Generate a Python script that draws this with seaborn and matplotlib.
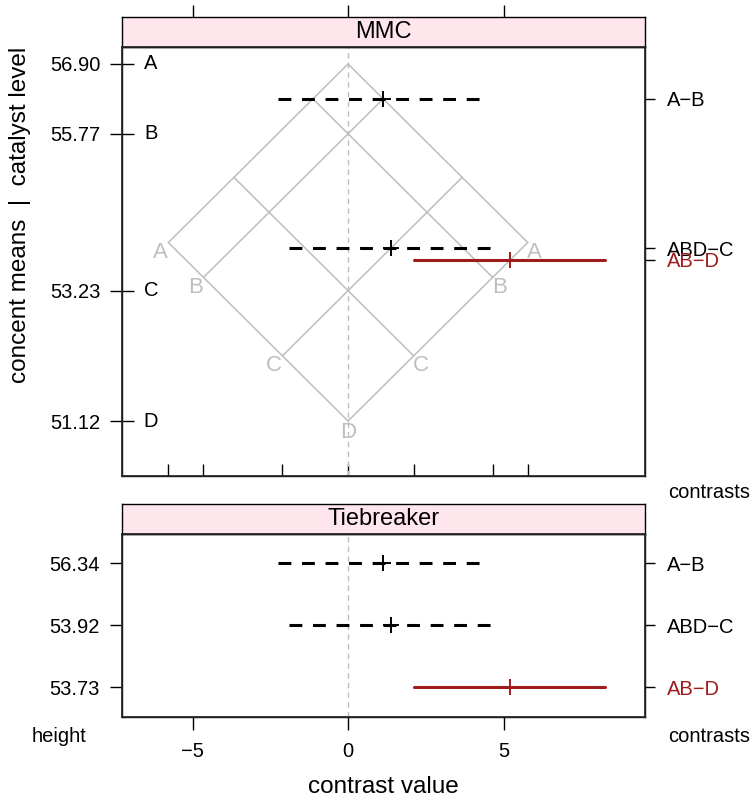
import numpy as np
import pandas as pd
import seaborn as sns
import matplotlib.pyplot as plt
from matplotlib.transforms import blended_transform_factory

# catalyst levels and their means
levels = ["A", "B", "C", "D"]
means = [56.90, 55.77, 53.23, 51.12]

# contrasts
contrasts = ["A\u2212B", "ABD\u2212C", "AB\u2212D"]
contrast_height = [56.34, 53.92, 53.73]
estimate = [1.13, 1.37, 5.21]
lower = [-2.25, -1.90, 2.12]
upper = [4.42, 4.60, 8.25]
significant = [False, False, True]

sns.set_theme(style="white")
plt.rcParams["font.family"] = ["Liberation Sans", "DejaVu Sans"]
plt.rcParams["text.color"] = "black"
plt.rcParams["axes.labelcolor"] = "black"
plt.rcParams["xtick.color"] = "black"
plt.rcParams["ytick.color"] = "black"

RED = "#9E1C1C"
GRAY = "#BEBEBE"
STRIP = "#FFE5EC"
W, H = 752, 800
XLIM = (-7.27, 9.55)

fig = plt.figure(figsize=(W / 100, H / 100), dpi=100)


def px_axes(l, t, r, b):
    return fig.add_axes([l / W, 1 - b / H, (r - l) / W, (b - t) / H])


ax1 = px_axes(122, 47, 645, 476)
st1 = px_axes(122, 17, 645, 47)
ax2 = px_axes(122, 534, 645, 717)
st2 = px_axes(122, 504, 645, 534)

for a in (ax1, st1, ax2, st2):
    a.set_xlim(XLIM)
    for s in a.spines.values():
        s.set_color("black")
        s.set_linewidth(1)

# ---- isomeans grid (MMC diamond)
mmax, mmin = max(means), min(means)
rows = []
for lev, m in zip(levels, means):
    rows += [dict(seg=lev + "d", x=m - mmax, y=(m + mmax) / 2),
             dict(seg=lev + "d", x=m - mmin, y=(m + mmin) / 2),
             dict(seg=lev + "a", x=mmin - m, y=(m + mmin) / 2),
             dict(seg=lev + "a", x=mmax - m, y=(m + mmax) / 2)]
grid = pd.DataFrame(rows)
sns.lineplot(data=grid, x="x", y="y", units="seg", estimator=None, sort=False,
             color=GRAY, lw=1.1, ax=ax1, legend=False)

for lev, m in zip(levels, means):
    d = m - mmin
    yy = (m + mmin) / 2
    if d == 0:
        ax1.annotate(lev, (0, yy), xytext=(0, -8), textcoords="offset points",
                     ha="center", va="center", color=GRAY, fontsize=16)
    else:
        ax1.annotate(lev, (-d, yy), xytext=(-6, -7), textcoords="offset points",
                     ha="center", va="center", color=GRAY, fontsize=16)
        ax1.annotate(lev, (d, yy), xytext=(5, -7), textcoords="offset points",
                     ha="center", va="center", color=GRAY, fontsize=16)

# ---- contrast intervals
def draw_contrasts(ax, ypos):
    ax.axvline(0, color=GRAY, lw=1, ls=(0, (4, 3)), zorder=1)
    for i in range(len(contrasts)):
        col = RED if significant[i] else "black"
        ls = "-" if significant[i] else (0, (4.2, 3.5))
        ax.plot([lower[i], upper[i]], [ypos[i], ypos[i]], color=col, lw=2.2,
                ls=ls, solid_capstyle="round", dash_capstyle="butt", zorder=3)
        ax.plot(estimate[i], ypos[i], marker="+", color=col, ms=12, mew=1.4,
                zorder=4)


draw_contrasts(ax1, contrast_height)
pos2 = [3, 2, 1]
draw_contrasts(ax2, pos2)

# ---- top panel axes
ax1.set_ylim(50.23, 57.175)
ax1.set_xlabel("")
ax1.set_ylabel("")
ax1.set_yticks(means)
ax1.set_yticklabels([f"{m:.2f}" for m in means])
ax1.tick_params(axis="y", left=True, direction="inout", length=17, width=1,
                labelsize=14.5, pad=7)
ax1.set_xticks([-(m - mmin) for m in means[:-1]] + [0] + [m - mmin for m in means[:-1]])
ax1.set_xticklabels([])
ax1.tick_params(axis="x", bottom=True, direction="in", length=9, width=1)
tr = blended_transform_factory(ax1.transAxes, ax1.transData)
for lev, m in zip(levels, means):
    ax1.text(0.055, m, lev, transform=tr, ha="center", va="center", fontsize=14.5)

r1 = ax1.twinx()
r1.set_ylim(ax1.get_ylim())
r1.set_yticks(contrast_height)
r1.set_yticklabels(contrasts)
r1.tick_params(axis="y", right=True, direction="out", length=7, width=1,
               labelsize=14.5, pad=9)
r1.get_yticklabels()[2].set_color(RED)
r1.get_yticklines()[5].set_color(RED)
r1.grid(False)

# strips
for st, title in ((st1, "MMC"), (st2, "Tiebreaker")):
    st.set_facecolor(STRIP)
    st.set_yticks([])
    st.text(0.5, 0.5, title, transform=st.transAxes, ha="center", va="center",
            fontsize=17)
st1.set_xticks([-5, 0, 5])
st1.set_xticklabels([])
st1.tick_params(axis="x", top=True, bottom=False, direction="out", length=9,
                width=1)
st2.set_xticks([])

# ---- bottom panel axes
ax2.set_ylim(0.516, 3.47)
ax2.set_yticks(pos2)
ax2.set_yticklabels([f"{h:.2f}" for h in contrast_height])
ax2.tick_params(axis="y", left=True, direction="out", length=9, width=1,
                labelsize=14.5, pad=7)
ax2.set_xticks([-5, 0, 5])
ax2.set_xticklabels(["\u22125", "0", "5"])
ax2.tick_params(axis="x", bottom=True, direction="out", length=9, width=1,
                labelsize=14.5, pad=9)

r2 = ax2.twinx()
r2.set_ylim(ax2.get_ylim())
r2.set_yticks(pos2)
r2.set_yticklabels(contrasts)
r2.tick_params(axis="y", right=True, direction="out", length=7, width=1,
               labelsize=14.5, pad=9)
r2.get_yticklabels()[2].set_color(RED)
r2.get_yticklines()[5].set_color(RED)
r2.grid(False)

# ---- labels
fig.text(20 / W, 1 - 215 / H, "concent means  |  catalyst level", rotation=90,
         ha="center", va="center", fontsize=17.5)
fig.text(383 / W, 1 - 787 / H, "contrast value", ha="center", va="center",
         fontsize=17.5)
fig.text(709 / W, 1 - 493 / H, "contrasts", ha="center", va="center", fontsize=14.5)
fig.text(709 / W, 1 - 737 / H, "contrasts", ha="center", va="center", fontsize=14.5)
fig.text(59 / W, 1 - 737 / H, "height", ha="center", va="center", fontsize=14.5)

fig.savefig("out.png", dpi=100)
